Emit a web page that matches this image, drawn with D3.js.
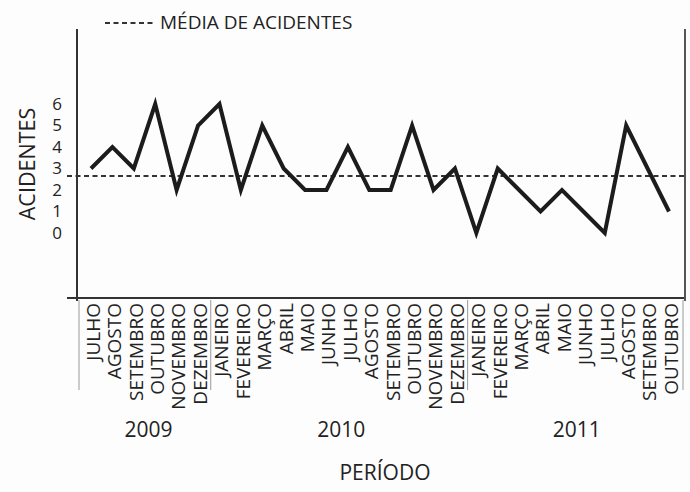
<!DOCTYPE html>
<html>
<head>
<meta charset="utf-8">
<script src="https://cdn.jsdelivr.net/npm/d3@7"></script>
<style>
  body { margin: 0; background: #fdfdfd; }
  text { font-family: "Open Sans", sans-serif; fill: #222; }
</style>
</head>
<body>
<div id="chart"></div>
<script>
// months shown on the x axis (Jul 2009 .. Oct 2011)
var months = ["JULHO", "AGOSTO", "SETEMBRO", "OUTUBRO", "NOVEMBRO", "DEZEMBRO",
    "JANEIRO", "FEVEREIRO", "MARÇO", "ABRIL", "MAIO", "JUNHO", "JULHO", "AGOSTO", "SETEMBRO", "OUTUBRO", "NOVEMBRO", "DEZEMBRO",
    "JANEIRO", "FEVEREIRO", "MARÇO", "ABRIL", "MAIO", "JUNHO", "JULHO", "AGOSTO", "SETEMBRO", "OUTUBRO"];
var years = ["2009", "2010", "2011"];
var monthYear = [0, 0, 0, 0, 0, 0,
    1, 1, 1, 1, 1, 1, 1, 1, 1, 1, 1, 1,
    2, 2, 2, 2, 2, 2, 2, 2, 2, 2];
var accidents = [3, 4, 3, 6, 2, 5,
    6, 2, 5, 3, 2, 2, 4, 2, 2, 5, 2, 3,
    0, 3, 2, 1, 2, 1, 0, 5, 3, 1];
var mediaAcidentes = 2.65;
var yTicks = [0, 1, 2, 3, 4, 5, 6];

var width = 690, height = 492;

var svg = d3.select("#chart")
    .append("svg")
    .attr("width", width)
    .attr("height", height);

// scales
var x = d3.scalePoint()
    .domain(d3.range(months.length))
    .range([91, 669]);

var y = d3.scaleLinear()
    .domain([0, 6])
    .range([233, 104]);

var axisY = 298, axisLeft = 77, axisRight = 685;

// frame: y axis, x axis, right border
svg.append("line")
    .attr("x1", axisLeft).attr("x2", axisLeft)
    .attr("y1", 29).attr("y2", axisY + 3)
    .attr("stroke", "#333").attr("stroke-width", 2);
svg.append("line")
    .attr("x1", 67).attr("x2", axisRight + 1)
    .attr("y1", axisY).attr("y2", axisY)
    .attr("stroke", "#333").attr("stroke-width", 2);
svg.append("line")
    .attr("x1", axisRight).attr("x2", axisRight)
    .attr("y1", 29).attr("y2", axisY + 3)
    .attr("stroke", "#555").attr("stroke-width", 2);

// thin gray lines under the axis separating years
var step = x.step();
var seps = [axisLeft + 2, x(5) + step / 2 + 2, x(17) + step / 2 + 2, axisRight - 2];
svg.selectAll(".sep")
    .data(seps)
    .enter().append("line")
    .attr("class", "sep")
    .attr("x1", function (d) { return d; })
    .attr("x2", function (d) { return d; })
    .attr("y1", axisY + 2)
    .attr("y2", 390)
    .attr("stroke", "#9a9a9a")
    .attr("stroke-width", 1);

// y axis labels (no tick marks)
svg.append("g")
    .attr("transform", "translate(62,0)")
    .call(d3.axisLeft(y).tickValues(yTicks).tickFormat(d3.format("d")).tickSize(0).tickPadding(0))
    .call(function (g) { g.select(".domain").remove(); })
    .selectAll("text")
    .style("font-family", "'Open Sans', sans-serif")
    .style("font-size", "17px")
    .attr("fill", "#222");

// month labels, rotated
svg.selectAll(".month")
    .data(months)
    .enter().append("text")
    .attr("class", "month")
    .attr("transform", function (d, i) {
        return "translate(" + (x(i) + 2) + "," + (axisY + 5) + ") rotate(-90)";
    })
    .attr("text-anchor", "end")
    .attr("dy", "0.36em")
    .style("font-size", "19px")
    .text(function (d) { return d; });

// year labels
svg.selectAll(".year")
    .data(years)
    .enter().append("text")
    .attr("class", "year")
    .attr("x", function (d, k) {
        var idx = d3.range(months.length).filter(function (i) { return monthYear[i] === k; });
        return (x(idx[0]) + x(idx[idx.length - 1])) / 2 + 4;
    })
    .attr("y", 437)
    .attr("text-anchor", "middle")
    .style("font-size", "21px")
    .text(function (d) { return d; });

// axis titles
svg.append("text")
    .attr("x", 385)
    .attr("y", 480)
    .attr("text-anchor", "middle")
    .style("font-size", "21px")
    .text("PERÍODO");

svg.append("text")
    .attr("transform", "translate(35,164) rotate(-90)")
    .attr("text-anchor", "middle")
    .style("font-size", "21.5px")
    .text("ACIDENTES");

// average line
svg.append("line")
    .attr("x1", 67).attr("x2", axisRight)
    .attr("y1", y(mediaAcidentes)).attr("y2", y(mediaAcidentes))
    .attr("stroke", "#333")
    .attr("stroke-width", 2)
    .attr("stroke-dasharray", "5,3.5");

// the data line
var line = d3.line()
    .x(function (d, i) { return x(i); })
    .y(function (d) { return y(d); });

svg.append("path")
    .datum(accidents)
    .attr("d", line)
    .attr("fill", "none")
    .attr("stroke", "#1c1c1c")
    .attr("stroke-width", 4)
    .attr("stroke-linejoin", "miter");

// legend
svg.append("line")
    .attr("x1", 105).attr("x2", 153)
    .attr("y1", 23).attr("y2", 23)
    .attr("stroke", "#333")
    .attr("stroke-width", 2)
    .attr("stroke-dasharray", "5,3.5");
svg.append("text")
    .attr("x", 160)
    .attr("y", 29)
    .style("font-size", "19px")
    .text("MÉDIA DE ACIDENTES");
</script>
</body>
</html>
